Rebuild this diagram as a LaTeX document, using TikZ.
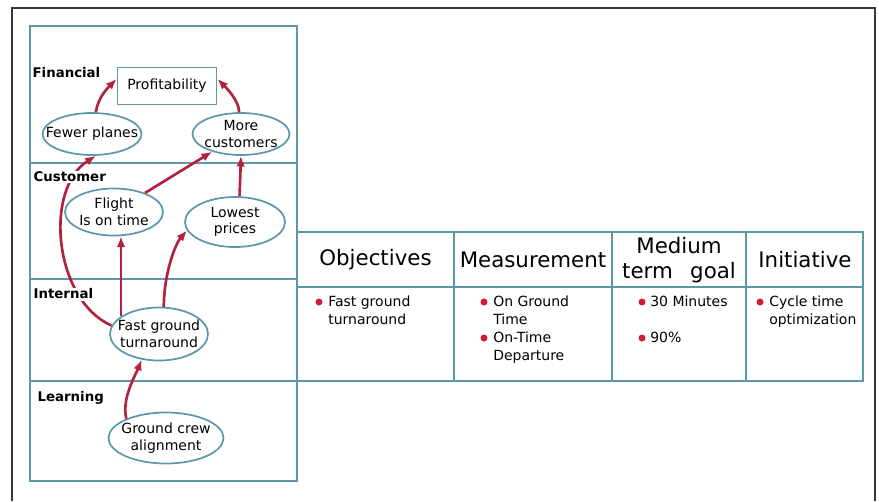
\documentclass[tikz,border=0pt]{standalone}
\usepackage{fontspec}
\setmainfont{DejaVu Sans}
\usepackage{tikz}
\usetikzlibrary{arrows.meta}
\usetikzlibrary{shapes.geometric}
\usetikzlibrary{positioning}

\definecolor{panelteal}{RGB}{92,152,170}
\definecolor{linkred}{RGB}{178,34,62}
\definecolor{dotred}{RGB}{205,30,55}
\definecolor{framegray}{RGB}{55,55,55}

\begin{document}
\begin{tikzpicture}[x=0.75pt,y=0.75pt,yscale=-1,xscale=1,
    panel/.style={draw=panelteal,line width=1.1pt},
    oval/.style={ellipse,draw=panelteal,line width=1.3pt,inner sep=0pt},
    ovaltext/.style={font=\fontsize{10.5}{12.5}\selectfont,align=center},
    goalbox/.style={rectangle,draw=panelteal,line width=1.3pt,inner sep=0pt,font=\fontsize{10.5}{12.5}\selectfont},
    link/.style={draw=linkred,line width=2pt,-{Latex[length=8pt,width=6.5pt]}},
    persp/.style={anchor=west,fill=white,inner sep=1pt,font=\bfseries\fontsize{10}{12}\selectfont},
    colhead/.style={font=\fontsize{16}{19}\selectfont,align=center},
    item/.style={anchor=north west,inner sep=0pt,align=left,font=\fontsize{10.5}{13.5}\selectfont}]
            \useasboundingbox (0,0) rectangle (879,501);
            \draw [framegray,line width=1.5pt] (12,501) -- (12,8) -- (875,8) -- (875,501);

            % perspectives panel
            \draw [panel] (30,26) rectangle (297,481);
            \foreach \y in {163,279,381} \draw [panel] (30,\y) -- (297,\y);

            % table
            \draw [panel] (297,232) rectangle (863,381);
            \draw [panel] (297,287) -- (863,287);
            \foreach \x in {454,612,746} \draw [panel] (\x,232) -- (\x,381);

            \node [goalbox,minimum width=74.25pt,minimum height=27.75pt] (prof) at (167,86) {Profitability};
            \node [oval,minimum width=74.25pt,minimum height=31.5pt,label={[ovaltext]center:Fewer planes}] (fewer) at (92,134) {};
            \node [oval,minimum width=72.75pt,minimum height=31.5pt,label={[ovaltext]center:More\\customers}] (more) at (241,134) {};
            \node [oval,minimum width=73.5pt,minimum height=35.25pt,label={[ovaltext]center:Flight\\Is on time}] (flight) at (114,212) {};
            \node [oval,minimum width=75pt,minimum height=37.5pt,label={[ovaltext]center:Lowest\\prices}] (lowest) at (235,222) {};
            \node [oval,minimum width=73.5pt,minimum height=39.75pt,label={[ovaltext]center:Fast ground\\turnaround}] (turn) at (159,334) {};
            \node [oval,minimum width=86.25pt,minimum height=38.25pt,label={[ovaltext]center:Ground crew\\alignment}] (crew) at (166,438) {};

            \draw [link] (fewer.80) .. controls +(2,-15) and +(-8,8) .. (prof.172);
            \draw [link] (more.95) .. controls +(0,-12) and +(8,8) .. (prof.8);
            \draw [link] (flight) -- (more);
            \draw [link] (lowest.80) -- (more.south);
            \draw [link] (turn.155) -- (turn.155 |- flight.south);
            \draw [link] (turn.80) .. controls +(0,-32) and +(-12,14) .. (lowest.190);
            \draw [link] (crew.154) .. controls +(-5,-20) and +(-6,15) .. (turn.236);
            \draw [link] (turn.170) .. controls +(-58,-26) and +(-52,33) .. (fewer.-80);

            \node [persp] (fin) at (31,73) {Financial};
            \node [persp] (cust) at (32,177) {Customer};
            \node [persp] (intl) at (32,294) {Internal};
            \node [persp] (learn) at (36,398) {Learning};

            \node [colhead] (hobj) at (375.5,260) {Objectives};
            \node [colhead] (hmeas) at (533,260) {Measurement};
            \node [colhead] (hgoal) at (679,260) {Medium\\term\hspace{8pt} goal};
            \node [colhead] (hinit) at (805,260) {Initiative};

            \foreach \x/\y in {319/302,484/302,484/338,642/302,642/338,760/302}
                \fill [dotred] (\x,\y) circle (3.5);
            \node [item] (obj1) at (328,296) {Fast ground\\turnaround};
            \node [item] (meas1) at (493,296) {On Ground\\Time};
            \node [item] (meas2) at (493,332) {On-Time\\Departure};
            \node [item] (goal1) at (650,296) {30 Minutes};
            \node [item] (goal2) at (650,332) {90\%};
            \node [item] (init1) at (769,296) {Cycle time\\optimization};
        \end{tikzpicture}
\end{document}
